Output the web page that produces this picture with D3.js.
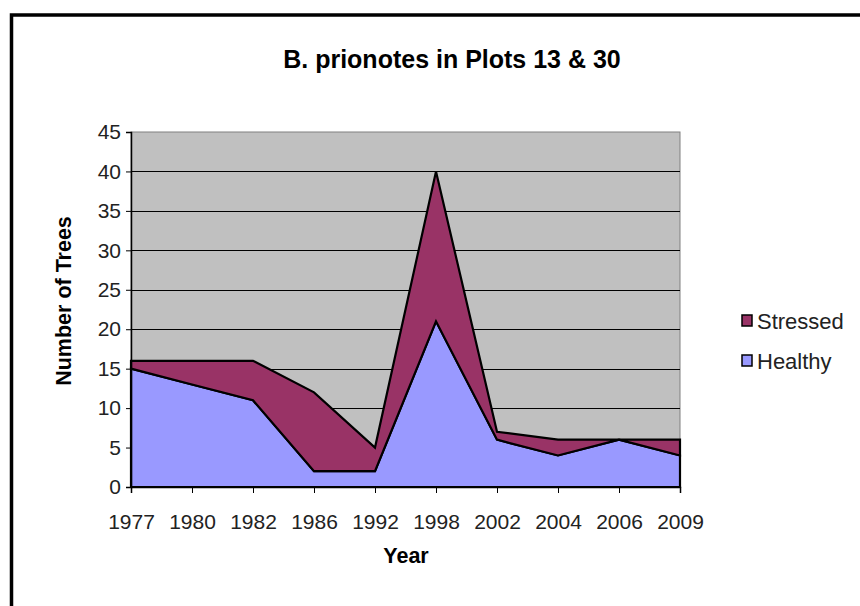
<!DOCTYPE html>
<html>
<head>
<meta charset="utf-8">
<script src="https://cdn.jsdelivr.net/npm/d3@7"></script>
<style>
  html, body { margin: 0; padding: 0; background: #fff; }
  svg { display: block; font-family: "Liberation Sans", Arial, sans-serif; }
</style>
</head>
<body>
<svg id="chart" width="860" height="606"></svg>
<script>
// Survey years and tree counts per condition
const years = ["1977", "1980", "1982", "1986", "1992", "1998", "2002", "2004", "2006", "2009"];
const healthy = [15, 13, 11, 2, 2, 21, 6, 4, 6, 4];
const stressed = [1, 3, 5, 10, 3, 19, 1, 2, 0, 2];
const seriesNames = ["Healthy", "Stressed"];
const seriesColors = ["#9999FF", "#993366"];
const yTicks = [0, 5, 10, 15, 20, 25, 30, 35, 40, 45];

const svg = d3.select("#chart");

// outer frame
svg.append("rect")
  .attr("x", 11.5).attr("y", 15).attr("width", 870).attr("height", 620)
  .attr("fill", "#fff").attr("stroke", "#000").attr("stroke-width", 3.5);

const plot = { left: 131, top: 132, right: 680, bottom: 487 };

const x = d3.scalePoint().domain(years).range([plot.left, plot.right]).padding(0);
const y = d3.scaleLinear().domain([0, 45]).range([plot.bottom, plot.top]);

// plot background
svg.append("rect")
  .attr("x", plot.left).attr("y", plot.top)
  .attr("width", plot.right - plot.left).attr("height", plot.bottom - plot.top)
  .attr("fill", "#C0C0C0").attr("stroke", "#808080").attr("stroke-width", 1);

// horizontal gridlines
svg.append("g").selectAll("line")
  .data(yTicks.filter(t => t > 0 && t < 45))
  .join("line")
  .attr("x1", plot.left).attr("x2", plot.right)
  .attr("y1", d => Math.round(y(d)) + 0.5).attr("y2", d => Math.round(y(d)) + 0.5)
  .attr("stroke", "#000").attr("stroke-width", 1);

// stacked areas
const table = years.map((yr, i) => ({ year: yr, Healthy: healthy[i], Stressed: stressed[i] }));
const stack = d3.stack().keys(seriesNames)(table);

const area = d3.area()
  .x(d => x(d.data.year))
  .y0(d => y(d[0]))
  .y1(d => y(d[1]));

svg.append("g").selectAll("path")
  .data(stack)
  .join("path")
  .attr("d", area)
  .attr("fill", (d, i) => seriesColors[i])
  .attr("stroke", "#000")
  .attr("stroke-width", 2.2)
  .attr("stroke-linejoin", "miter");

// axes
const yAxis = d3.axisLeft(y).tickValues(yTicks).tickSize(5).tickPadding(5);
const gy = svg.append("g").attr("transform", `translate(${plot.left},0)`).call(yAxis);
gy.select(".domain").attr("stroke", "#000").attr("stroke-width", 1.5);
gy.selectAll(".tick line").attr("stroke", "#000");
gy.selectAll(".tick text").attr("font-size", 21).attr("fill", "#222")
  .attr("font-family", "'Liberation Sans', Arial, sans-serif");

const xAxis = d3.axisBottom(x).tickSize(6).tickPadding(21);
const gx = svg.append("g").attr("transform", `translate(0,${plot.bottom})`).call(xAxis);
gx.select(".domain").attr("stroke", "#000").attr("stroke-width", 1.5);
gx.selectAll(".tick line").attr("stroke", "#000");
gx.selectAll(".tick text").attr("font-size", 21).attr("fill", "#222")
  .attr("font-family", "'Liberation Sans', Arial, sans-serif");

// titles
svg.append("text")
  .attr("x", 452).attr("y", 68)
  .attr("text-anchor", "middle")
  .attr("font-size", 25).attr("font-weight", "bold").attr("fill", "#000")
  .text("B. prionotes in Plots 13 & 30");

svg.append("text")
  .attr("transform", "translate(71,301) rotate(-90)")
  .attr("text-anchor", "middle")
  .attr("font-size", 21.5).attr("font-weight", "bold").attr("fill", "#000")
  .text("Number of Trees");

svg.append("text")
  .attr("x", 406).attr("y", 563)
  .attr("text-anchor", "middle")
  .attr("font-size", 21.5).attr("font-weight", "bold").attr("fill", "#000")
  .text("Year");

// legend (stacked order reversed: top series first)
const legendItems = seriesNames.map((n, i) => ({ name: n, color: seriesColors[i] })).reverse();
const lg = svg.append("g").selectAll("g")
  .data(legendItems)
  .join("g")
  .attr("transform", (d, i) => `translate(742,${315 + i * 40})`);
lg.append("rect")
  .attr("width", 10).attr("height", 11)
  .attr("fill", d => d.color).attr("stroke", "#000").attr("stroke-width", 1.5);
lg.append("text")
  .attr("x", 15).attr("y", 14)
  .attr("font-size", 22).attr("fill", "#222")
  .text(d => d.name);
</script>
</body>
</html>
